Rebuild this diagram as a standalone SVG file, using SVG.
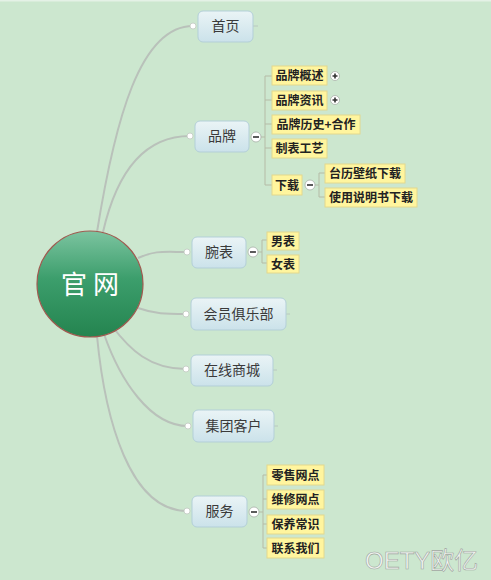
<svg xmlns="http://www.w3.org/2000/svg" width="491" height="580" viewBox="0 0 491 580">
<defs>
<linearGradient id="gCircle" x1="0" y1="0" x2="0" y2="1">
<stop offset="0" stop-color="#7cc4a0"/>
<stop offset="0.45" stop-color="#3c9e6c"/>
<stop offset="1" stop-color="#24844f"/>
</linearGradient>
<linearGradient id="gMain" x1="0" y1="0" x2="0" y2="1">
<stop offset="0" stop-color="#eaf4f6"/>
<stop offset="1" stop-color="#cbe2ea"/>
</linearGradient>
<style>
.bg{fill:#cce7cf}
.conn{fill:none;stroke:#b9c1ba;stroke-width:2}
.tree{fill:none;stroke:#b5bba6;stroke-width:1}
.stub{fill:none;stroke:#b9c8c0;stroke-width:1}
.dot{fill:#ffffff;stroke:#c0c8c0;stroke-width:0.8}
.main rect{fill:url(#gMain);stroke:#b3cfd8;stroke-width:1}
.main text{font-family:"Noto Sans CJK SC","Liberation Sans",sans-serif;font-size:14px;fill:#3a3a3a;text-anchor:middle}
.sub rect{fill:#fff59e;stroke:#e2d88e;stroke-width:1}
.sub text{font-family:"Noto Sans CJK SC","Liberation Sans",sans-serif;font-size:12px;font-weight:bold;fill:#222;text-anchor:middle}
.btn{fill:#ffffff;stroke:#a8b0a8;stroke-width:0.8}
.sign{stroke:#333;stroke-width:1.6}
.root text{font-family:"Noto Sans CJK SC","Liberation Sans",sans-serif;font-size:26px;fill:#ffffff;text-anchor:middle}
.wm{font-family:"Liberation Sans","Noto Sans CJK SC",sans-serif;font-size:24px;fill:#f2f5f2;stroke:#9ea69e;stroke-width:0.6}
</style>
</defs>
<rect class="bg" x="0" y="0" width="491" height="580"/>
<rect x="0" y="0" width="491" height="1.5" fill="#e4f1e6"/>

<g id="connectors">
<path class="conn" d="M97,232 C115,120 140,26 193,26"/>
<path class="conn" d="M103,232 C115,180 140,136 190,136"/>
<path class="conn" d="M138,258 C155,250 165,252 187,252"/>
<path class="conn" d="M138,308 C155,314 165,314 186,314"/>
<path class="conn" d="M112,326 C130,350 150,369 186,369"/>
<path class="conn" d="M104,334 C120,380 150,426 188,426"/>
<path class="conn" d="M97,336 C105,420 130,511 187,511"/>
<path class="tree" d="M261,137 H265 M265,76 V185 M265,76 H272 M265,100 H272 M265,124 H272 M265,148 H272 M265,185 H272"/>
<path class="tree" d="M315,185 H319 M319,173 V197 M319,173 H325 M319,197 H325"/>
<path class="tree" d="M258,252 H262 M262,240 V263 M262,240 H267 M262,263 H267"/>
<path class="tree" d="M259,512 H263 M263,475 V548 M263,475 H267 M263,499 H267 M263,524 H267 M263,548 H267"/>
<path class="stub" d="M253,26 H258 M286,314 H290 M273,370 H277 M274,426 H278"/>
<circle class="dot" cx="193" cy="26" r="3"/>
<circle class="dot" cx="190" cy="136" r="3"/>
<circle class="dot" cx="187" cy="252" r="3"/>
<circle class="dot" cx="186" cy="314" r="3"/>
<circle class="dot" cx="186" cy="369" r="3"/>
<circle class="dot" cx="188" cy="426" r="3"/>
<circle class="dot" cx="187" cy="511" r="3"/>
</g>

<g id="root" class="root">
<circle cx="90" cy="284" r="53" fill="url(#gCircle)" stroke="#a05a50" stroke-width="1.2"/>
<text x="90" y="294">官 网</text>
</g>

<g id="n-shouye" class="main"><rect x="198" y="11" width="55" height="31" rx="5"/><text x="225.5" y="31">首页</text></g>
<g id="n-pinpai" class="main"><rect x="195" y="121" width="54" height="31" rx="5"/><text x="222" y="141">品牌</text></g>
<g id="n-wanbiao" class="main"><rect x="192" y="237" width="54" height="31" rx="5"/><text x="219" y="257">腕表</text></g>
<g id="n-huiyuan" class="main"><rect x="191" y="298" width="95" height="32" rx="5"/><text x="238.5" y="319">会员俱乐部</text></g>
<g id="n-zaixian" class="main"><rect x="191" y="355" width="82" height="31" rx="5"/><text x="232" y="375">在线商城</text></g>
<g id="n-jituan" class="main"><rect x="193" y="410" width="81" height="32" rx="5"/><text x="233.5" y="431">集团客户</text></g>
<g id="n-fuwu" class="main"><rect x="192" y="496" width="55" height="31" rx="5"/><text x="219.5" y="516">服务</text></g>

<g id="b-pinpai"><circle class="btn" cx="256" cy="137" r="5"/><path class="sign" d="M253,137 H259"/></g>
<g id="b-wanbiao"><circle class="btn" cx="253" cy="252" r="5"/><path class="sign" d="M250,252 H256"/></g>
<g id="b-fuwu"><circle class="btn" cx="254" cy="512" r="5"/><path class="sign" d="M251,512 H257"/></g>
<g id="b-xiazai"><circle class="btn" cx="310" cy="185" r="5"/><path class="sign" d="M307,185 H313"/></g>
<g id="b-gaishu"><circle class="btn" cx="335" cy="76" r="4.5"/><path class="sign" d="M332.5,76 H337.5 M335,73.5 V78.5" stroke-width="1.3"/></g>
<g id="b-zixun"><circle class="btn" cx="335" cy="100" r="4.5"/><path class="sign" d="M332.5,100 H337.5 M335,97.5 V102.5" stroke-width="1.3"/></g>

<g id="s-gaishu" class="sub"><rect x="272" y="66" width="55" height="19"/><text x="299.5" y="80">品牌概述</text></g>
<g id="s-zixun" class="sub"><rect x="272" y="91" width="55" height="19"/><text x="299.5" y="105">品牌资讯</text></g>
<g id="s-lishi" class="sub"><rect x="272" y="115" width="88" height="19"/><text x="316" y="129">品牌历史+合作</text></g>
<g id="s-zhibiao" class="sub"><rect x="272" y="139" width="55" height="19"/><text x="299.5" y="153">制表工艺</text></g>
<g id="s-xiazai" class="sub"><rect x="272" y="175" width="30" height="20"/><text x="287" y="190">下载</text></g>
<g id="s-bizhi" class="sub"><rect x="325" y="164" width="80" height="19"/><text x="365" y="178">台历壁纸下载</text></g>
<g id="s-shuoming" class="sub"><rect x="325" y="188" width="92" height="19"/><text x="371" y="202">使用说明书下载</text></g>
<g id="s-nan" class="sub"><rect x="267" y="232" width="32" height="18"/><text x="283" y="245.5">男表</text></g>
<g id="s-nv" class="sub"><rect x="267" y="255" width="32" height="18"/><text x="283" y="268.5">女表</text></g>
<g id="s-lingshou" class="sub"><rect x="267" y="465" width="57" height="20"/><text x="295.5" y="480">零售网点</text></g>
<g id="s-weixiu" class="sub"><rect x="267" y="490" width="57" height="19"/><text x="295.5" y="504">维修网点</text></g>
<g id="s-baoyang" class="sub"><rect x="267" y="515" width="57" height="19"/><text x="295.5" y="529">保养常识</text></g>
<g id="s-lianxi" class="sub"><rect x="267" y="538" width="57" height="20"/><text x="295.5" y="553">联系我们</text></g>

<text class="wm" x="365" y="569">OETY欧亿</text>
</svg>
